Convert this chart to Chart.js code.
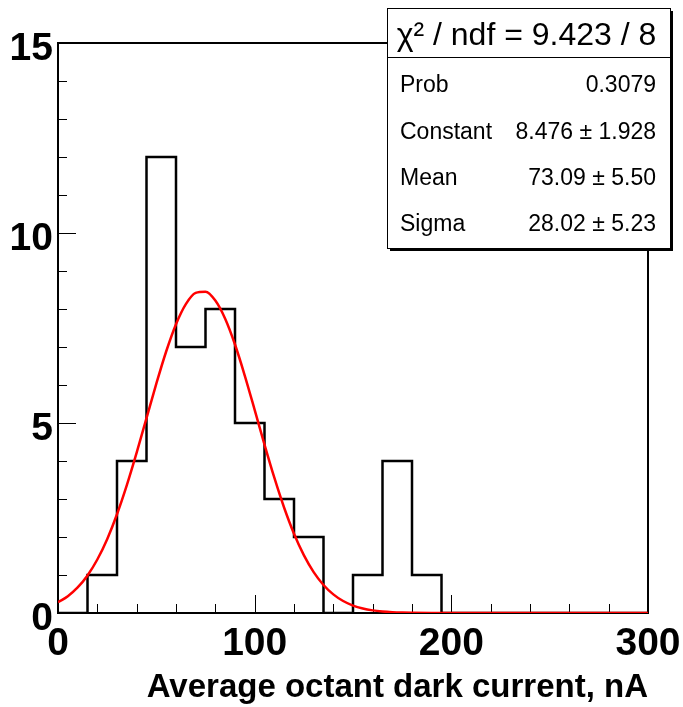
<!DOCTYPE html>
<html>
<head>
<meta charset="utf-8">
<script src="https://cdn.jsdelivr.net/npm/chart.js@4"></script>
<style>
  html, body { margin: 0; padding: 0; background: #fff; }
  canvas { display: block; }
</style>
</head>
<body>
<canvas id="histChart" width="683" height="707"></canvas>
<script>
// histogram bins (low edges, width 15) and counts
const binEdges = [0, 15, 30, 45, 60, 75, 90, 105, 120, 135, 150, 165, 180, 195, 210, 225, 240, 255, 270, 285, 300];
const binCounts = [0, 1, 4, 12, 7, 8, 5, 3, 2, 0, 1, 4, 1, 0, 0, 0, 0, 0, 0, 0];

// gaussian fit curve
const fitX = [0, 5, 10, 15, 20, 25, 30, 35, 40, 45, 50, 55, 60, 65, 70, 75, 80, 85, 90, 95, 100,
  105, 110, 115, 120, 125, 130, 135, 140, 145, 150, 155, 160, 165, 170, 175, 180, 190, 200, 250, 300];
const fitY = [0.282, 0.443, 0.672, 0.988, 1.408, 1.943, 2.598, 3.365, 4.220, 5.128, 6.036, 6.882, 7.600, 8.130, 8.425, 8.456, 8.222, 7.744, 7.065, 6.243, 5.345,
  4.432, 3.560, 2.770, 2.087, 1.524, 1.077, 0.738, 0.490, 0.315, 0.196, 0.118, 0.069, 0.039, 0.021, 0.011, 0.006, 0.001, 0, 0, 0];

// stats box
const statHeader = 'χ² / ndf = 9.423 / 8';
const statLabels = ['Prob', 'Constant', 'Mean', 'Sigma'];
const statValues = ['0.3079', '8.476 ± 1.928', '73.09 ± 5.50', '28.02 ± 5.23'];

const FONT = '"Liberation Sans", Arial, Helvetica, sans-serif';

const histPoints = binCounts.map((c, i) => ({ x: binEdges[i], y: c }));
histPoints.push({ x: binEdges[binEdges.length - 1], y: 0 });
const fitPoints = fitX.map((x, i) => ({ x: x, y: fitY[i] }));

// ROOT style frame with inward ticks, y labels a bit below the tick
const rootFrame = {
  id: 'rootFrame',
  beforeDatasetsDraw(chart) {
    const { ctx, chartArea: a, scales: { x, y } } = chart;
    ctx.save();
    ctx.strokeStyle = '#000';
    ctx.lineWidth = 2;
    ctx.strokeRect(a.left, a.top, a.right - a.left, a.bottom - a.top);

    ctx.lineWidth = 1;
    ctx.beginPath();
    for (let v = x.min; v <= x.max; v += 20) {
      const px = Math.round(x.getPixelForValue(v)) + 0.5;
      const len = v % 100 === 0 ? 18 : 9;
      ctx.moveTo(px, a.bottom);
      ctx.lineTo(px, a.bottom - len);
    }
    for (let v = y.min; v <= y.max; v += 1) {
      const py = Math.round(y.getPixelForValue(v)) + 0.5;
      const len = v % 5 === 0 ? 18 : 9;
      ctx.moveTo(a.left, py);
      ctx.lineTo(a.left + len, py);
    }
    ctx.stroke();

    ctx.fillStyle = '#000';
    ctx.font = 'bold 39px ' + FONT;
    ctx.textAlign = 'right';
    ctx.textBaseline = 'alphabetic';
    y.ticks.forEach((t) => {
      ctx.fillText(String(t.value), a.left - 5, y.getPixelForValue(t.value) + 17);
    });
    ctx.restore();
  },
};

const statsBox = {
  id: 'statsBox',
  afterDraw(chart) {
    const { ctx } = chart;
    const left = 387, top = 8, right = 670, bottom = 248;
    ctx.save();
    ctx.fillStyle = '#fff';
    ctx.fillRect(left, top, right - left, bottom - top);
    ctx.strokeStyle = '#000';
    ctx.lineWidth = 1;
    ctx.strokeRect(left + 0.5, top + 0.5, right - left, bottom - top);
    // shadow
    ctx.lineWidth = 2;
    ctx.beginPath();
    ctx.moveTo(left + 3, bottom + 2);
    ctx.lineTo(right + 2, bottom + 2);
    ctx.lineTo(right + 2, top + 3);
    ctx.stroke();
    // separator
    ctx.lineWidth = 1;
    ctx.beginPath();
    ctx.moveTo(left, 57.5);
    ctx.lineTo(right, 57.5);
    ctx.stroke();

    ctx.fillStyle = '#000';
    ctx.textBaseline = 'alphabetic';
    ctx.font = '32px ' + FONT;
    ctx.textAlign = 'center';
    ctx.fillText(statHeader, (left + right) / 2 - 2, 45);

    ctx.font = '23px ' + FONT;
    const rowBase = [92, 139, 185, 231];
    statLabels.forEach((lab, i) => {
      ctx.textAlign = 'left';
      ctx.fillText(lab, 400, rowBase[i]);
      ctx.textAlign = 'right';
      ctx.fillText(statValues[i], 656, rowBase[i]);
    });
    ctx.restore();
  },
};

new Chart(document.getElementById('histChart'), {
  type: 'line',
  data: {
    datasets: [
      {
        label: 'hist',
        data: histPoints,
        stepped: true,
        borderColor: '#000',
        borderWidth: 2.5,
        pointRadius: 0,
        fill: false,
        order: 1,
      },
      {
        label: 'fit',
        data: fitPoints,
        borderColor: '#ff0000',
        borderWidth: 2.5,
        pointRadius: 0,
        cubicInterpolationMode: 'monotone',
        fill: false,
        order: 0,
      },
    ],
  },
  options: {
    responsive: false,
    animation: false,
    layout: { padding: { top: 43, right: 35, left: 0, bottom: 0 } },
    plugins: {
      legend: { display: false },
      tooltip: { enabled: false },
    },
    scales: {
      x: {
        type: 'linear',
        min: 0,
        max: 300,
        grid: { display: false, drawTicks: false },
        border: { display: false },
        ticks: {
          stepSize: 100,
          color: '#000',
          padding: 8,
          maxRotation: 0,
          font: { family: FONT, size: 39, weight: 'bold' },
        },
        title: {
          display: true,
          text: 'Average octant dark current, nA',
          align: 'end',
          color: '#000',
          padding: { top: 0, bottom: 0 },
          font: { family: FONT, size: 33, weight: 'bold', lineHeight: 1.14 },
        },
        afterFit(scale) {
          scale.height = 94;
          scale.paddingLeft = 0;
          scale.paddingRight = 0;
        },
      },
      y: {
        min: 0,
        max: 15,
        grid: { display: false, drawTicks: false },
        border: { display: false },
        ticks: { stepSize: 5, display: false },
        afterFit(scale) {
          scale.width = 58;
          scale.paddingTop = 0;
          scale.paddingBottom = 0;
        },
      },
    },
  },
  plugins: [rootFrame, statsBox],
});
</script>
</body>
</html>
